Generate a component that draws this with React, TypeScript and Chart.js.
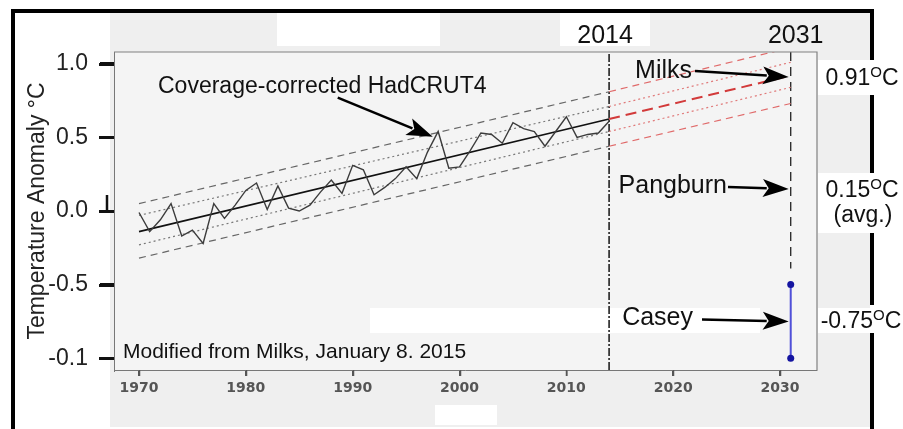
import React, { useEffect, useRef } from 'react';
import { Chart, registerables } from 'chart.js';

Chart.register(...registerables);

// ---- data ----
const years = [
  1970, 1971, 1972, 1973, 1974, 1975, 1976, 1977, 1978, 1979,
  1980, 1981, 1982, 1983, 1984, 1985, 1986, 1987, 1988, 1989,
  1990, 1991, 1992, 1993, 1994, 1995, 1996, 1997, 1998, 1999,
  2000, 2001, 2002, 2003, 2004, 2005, 2006, 2007, 2008, 2009,
  2010, 2011, 2012, 2013, 2014,
];
const anomalies = [
  -0.01, -0.14, -0.06, 0.05, -0.17, -0.13, -0.22, 0.05, -0.05, 0.04,
  0.14, 0.19, 0.01, 0.17, 0.02, 0.0, 0.04, 0.13, 0.21, 0.12,
  0.31, 0.28, 0.11, 0.16, 0.22, 0.3, 0.22, 0.4, 0.54, 0.29,
  0.3, 0.41, 0.53, 0.52, 0.46, 0.6, 0.56, 0.54, 0.44, 0.54,
  0.64, 0.5, 0.52, 0.53, 0.61,
];
const trendYears = [1970, 2014, 2031];
const trendValues = [-0.14, 0.625, 0.92];
const outerUpper = [0.05, 0.81, 1.11];
const innerUpper = [-0.03, 0.71, 1.01];
const innerLower = [-0.23, 0.54, 0.84];
const outerLower = [-0.32, 0.44, 0.73];

const xTicks = [1970, 1980, 1990, 2000, 2010, 2020, 2030];
const yTicks = [-1, -0.5, 0, 0.5, 1];
const yTickLabels = ['-0.1', '-0.5', '0.0', '0.5', '1.0'];

const breakYear = 2014;
const targetYear = 2031;
const milksValue = 0.91;
const pangburnValue = 0.15;
const caseyValue = -0.75;
const caseyRange = [-0.5, -1.0];
const pangburnLineBottom = -0.39;
const yMin = -1.08;
const yMax = 1.08;
const coverageArrow = [1988.6, 0.77, 1997.5, 0.505];

const FONT = '"Liberation Sans", Arial, sans-serif';

function seg(i0: number, i1: number, arr: number[]) {
  return [
    { x: trendYears[i0], y: arr[i0] },
    { x: trendYears[i1], y: arr[i1] },
  ];
}

function drawArrow(ctx: CanvasRenderingContext2D, x1: number, y1: number, x2: number, y2: number, head = 26, half = 9) {
  const a = Math.atan2(y2 - y1, x2 - x1);
  const c = Math.cos(a), s = Math.sin(a);
  const bx = x2 - head * c, by = y2 - head * s;
  ctx.beginPath();
  ctx.moveTo(x1, y1);
  ctx.lineTo(bx + 4 * c, by + 4 * s);
  ctx.lineWidth = 2.5;
  ctx.strokeStyle = '#000';
  ctx.stroke();
  ctx.beginPath();
  ctx.moveTo(x2, y2);
  ctx.lineTo(bx - half * s, by + half * c);
  ctx.lineTo(bx + 6 * c, by + 6 * s);
  ctx.lineTo(bx + half * s, by - half * c);
  ctx.closePath();
  ctx.fillStyle = '#000';
  ctx.fill();
}

function degLabel(ctx: CanvasRenderingContext2D, main: string, cx: number, baseline: number) {
  const big = `23px ${FONT}`;
  const small = `15px ${FONT}`;
  ctx.font = big;
  const w1 = ctx.measureText(main).width;
  const wC = ctx.measureText('C').width;
  ctx.font = small;
  const wO = ctx.measureText('O').width;
  let x = cx - (w1 + wO + wC) / 2;
  ctx.textAlign = 'left';
  ctx.textBaseline = 'alphabetic';
  ctx.fillStyle = '#111';
  ctx.font = big;
  ctx.fillText(main, x, baseline);
  x += w1;
  ctx.font = small;
  ctx.fillText('O', x, baseline - 8);
  x += wO;
  ctx.font = big;
  ctx.fillText('C', x, baseline);
}

const decorPlugin = {
  id: 'decor',
  beforeDraw(chart: any) {
    const { ctx, chartArea: ca } = chart;
    ctx.save();
    ctx.fillStyle = '#ffffff';
    ctx.fillRect(0, 0, chart.width, chart.height);
    ctx.fillStyle = '#efefef';
    ctx.fillRect(110, 13, 760, 414);
    ctx.fillStyle = '#f4f4f4';
    ctx.fillRect(ca.left, ca.top, ca.right - ca.left, ca.bottom - ca.top);
    ctx.fillStyle = '#ffffff';
    ctx.fillRect(277, 13, 163, 33);
    ctx.fillRect(560, 13, 90, 33);
    ctx.fillRect(818, 60, 85, 35);
    ctx.fillRect(818, 173, 85, 60);
    ctx.fillRect(818, 308, 85, 25);
    ctx.fillRect(370, 308, 390, 25);
    ctx.fillRect(435, 405, 62, 20);
    ctx.restore();
  },
  afterDraw(chart: any) {
    const { ctx, chartArea: ca } = chart;
    const xs = chart.scales.x, ys = chart.scales.y;
    const px = (v: number) => xs.getPixelForValue(v);
    const py = (v: number) => ys.getPixelForValue(v);
    ctx.save();
    // plot box
    ctx.strokeStyle = '#808080';
    ctx.lineWidth = 1.2;
    ctx.beginPath();
    ctx.moveTo(ca.left, ca.top);
    ctx.lineTo(ca.right, ca.top);
    ctx.lineTo(ca.right, ca.bottom);
    ctx.stroke();

    // axis tick marks
    ctx.strokeStyle = '#111';
    ctx.lineWidth = 3;
    ctx.beginPath();
    for (const v of yTicks) {
      const y = Math.round(py(v)) + 0.5;
      ctx.moveTo(99, y);
      ctx.lineTo(ca.left, y);
    }
    ctx.stroke();
    ctx.strokeStyle = '#555';
    ctx.lineWidth = 1.5;
    ctx.beginPath();
    for (const v of xTicks) {
      const x = Math.round(px(v)) + 0.5;
      ctx.moveTo(x, ca.bottom);
      ctx.lineTo(x, ca.bottom + 6);
    }
    ctx.stroke();

    // outer frame
    ctx.strokeStyle = '#000';
    ctx.lineWidth = 4;
    ctx.beginPath();
    ctx.moveTo(11, 11);
    ctx.lineTo(874, 11);
    ctx.moveTo(13, 9);
    ctx.lineTo(13, 429);
    const rightSegs = [[9, 60], [95, 173], [233, 305], [333, 429]];
    for (const [a, b] of rightSegs) {
      ctx.moveTo(872, a);
      ctx.lineTo(872, b);
    }
    ctx.stroke();

    // 0.0 bracket
    ctx.lineWidth = 2.5;
    ctx.strokeStyle = '#111';
    ctx.beginPath();
    ctx.moveTo(107, py(0) - 16);
    ctx.lineTo(107, py(0));
    ctx.stroke();

    // texts
    ctx.fillStyle = '#111';
    ctx.textBaseline = 'alphabetic';
    ctx.font = `25px ${FONT}`;
    ctx.textAlign = 'center';
    ctx.fillText(String(breakYear), px(breakYear) - 4, 43);
    ctx.fillText(String(targetYear), px(targetYear) + 5, 43);

    ctx.textAlign = 'left';
    ctx.font = `23px ${FONT}`;
    ctx.fillText('Coverage-corrected HadCRUT4', 158, 93);
    ctx.font = `21px ${FONT}`;
    ctx.fillText('Modified from Milks, January 8. 2015', 123, 358);

    ctx.textAlign = 'right';
    ctx.font = `25px ${FONT}`;
    ctx.fillText('Milks', 692, 78);
    ctx.fillText('Pangburn', 727, 193);
    ctx.fillText('Casey', 693, 325);

    // arrows
    const tipX = px(targetYear) - 2;
    drawArrow(ctx, px(coverageArrow[0]), py(coverageArrow[1]), px(coverageArrow[2]), py(coverageArrow[3]));
    drawArrow(ctx, 695, py(milksValue) - 6, tipX, py(milksValue));
    drawArrow(ctx, 728, py(pangburnValue) - 2, tipX, py(pangburnValue));
    drawArrow(ctx, 702, py(caseyValue) - 2, tipX, py(caseyValue));

    // right labels
    degLabel(ctx, milksValue.toFixed(2), 862, 85);
    degLabel(ctx, pangburnValue.toFixed(2), 862, 197);
    ctx.font = `23px ${FONT}`;
    ctx.textAlign = 'center';
    ctx.fillStyle = '#111';
    ctx.fillText('(avg.)', 863, 222);
    degLabel(ctx, caseyValue.toFixed(2), 861, 328);
    ctx.restore();
  },
};

export default function App() {
  const ref = useRef<HTMLCanvasElement | null>(null);
  useEffect(() => {
    const canvas = ref.current;
    if (!canvas) return;
    const datasets: any[] = [
      {
        data: years.map((y, i) => ({ x: y, y: anomalies[i] })),
        borderColor: '#3c3c3c',
        borderWidth: 1.4,
      },
      { data: seg(0, 1, trendValues), borderColor: '#111', borderWidth: 1.7 },
      { data: seg(0, 1, outerUpper), borderColor: '#666', borderWidth: 1.2, borderDash: [7, 5] },
      { data: seg(0, 1, outerLower), borderColor: '#666', borderWidth: 1.2, borderDash: [7, 5] },
      { data: seg(0, 1, innerUpper), borderColor: '#777', borderWidth: 1.2, borderDash: [2, 3] },
      { data: seg(0, 1, innerLower), borderColor: '#777', borderWidth: 1.2, borderDash: [2, 3] },
      { data: seg(1, 2, outerUpper), borderColor: '#e06a6a', borderWidth: 1.2, borderDash: [7, 5] },
      { data: seg(1, 2, outerLower), borderColor: '#e06a6a', borderWidth: 1.2, borderDash: [7, 5] },
      { data: seg(1, 2, innerUpper), borderColor: '#e07a7a', borderWidth: 1.2, borderDash: [2, 3] },
      { data: seg(1, 2, innerLower), borderColor: '#e07a7a', borderWidth: 1.2, borderDash: [2, 3] },
      { data: seg(1, 2, trendValues), borderColor: '#d23a3a', borderWidth: 2, borderDash: [11, 6] },
      {
        data: [{ x: breakYear, y: yMin }, { x: breakYear, y: yMax }],
        borderColor: '#222',
        borderWidth: 1.6,
        borderDash: [8, 2, 2, 2],
      },
      {
        data: [{ x: targetYear, y: yMax }, { x: targetYear, y: pangburnLineBottom }],
        borderColor: '#222',
        borderWidth: 1.3,
        borderDash: [9, 6],
      },
      {
        data: caseyRange.map((v) => ({ x: targetYear, y: v })),
        borderColor: '#5050d8',
        borderWidth: 2,
        pointRadius: 3.5,
        pointBackgroundColor: '#1414a0',
        pointBorderWidth: 0,
      },
    ];
    const chart = new Chart(canvas, {
      type: 'line',
      data: { datasets },
      options: {
        animation: false,
        responsive: false,
        devicePixelRatio: 1,
        layout: { padding: { left: 12, top: 52, right: 86, bottom: 0 } },
        plugins: { legend: { display: false }, tooltip: { enabled: false } },
        elements: { point: { radius: 0 }, line: { tension: 0 } },
        scales: {
          x: {
            type: 'linear',
            min: 1967.66,
            max: 2033.46,
            afterBuildTicks: (s: any) => {
              s.ticks = xTicks.map((v) => ({ value: v }));
            },
            afterFit: (s: any) => {
              s.height = 59;
            },
            grid: { drawOnChartArea: false, drawTicks: true, tickLength: 6, color: '#555', lineWidth: 1.5 },
            border: { display: true, color: '#777', width: 1 },
            ticks: {
              font: { family: 'DejaVu Sans', weight: 'bold', size: 14 },
              color: '#555',
              padding: 4,
              maxRotation: 0,
              autoSkip: false,
              callback: (v: any) => String(v),
            },
          },
          y: {
            type: 'linear',
            min: yMin,
            max: yMax,
            afterBuildTicks: (s: any) => {
              s.ticks = yTicks.map((v) => ({ value: v }));
            },
            afterFit: (s: any) => {
              s.width = 102;
            },
            grid: { drawOnChartArea: false, drawTicks: true, tickLength: 14, color: '#111', lineWidth: 3 },
            border: { display: true, color: '#777', width: 1 },
            ticks: {
              font: { family: 'Liberation Sans', size: 23 },
              color: '#222',
              padding: 12,
              autoSkip: false,
              callback: (_v: any, i: number) => yTickLabels[i],
            },
            title: {
              display: true,
              text: 'Temperature Anomaly °C',
              font: { family: 'Liberation Sans', size: 23 },
              color: '#222',
              padding: { top: 12, bottom: 0 },
            },
          },
        },
      } as any,
      plugins: [decorPlugin],
    });
    return () => chart.destroy();
  }, []);
  return (
    <div style={{ position: 'fixed', left: 0, top: 0, width: 903, height: 429 }}>
      <canvas ref={ref} width={903} height={429} style={{ display: 'block', width: 903, height: 429 }} />
    </div>
  );
}
